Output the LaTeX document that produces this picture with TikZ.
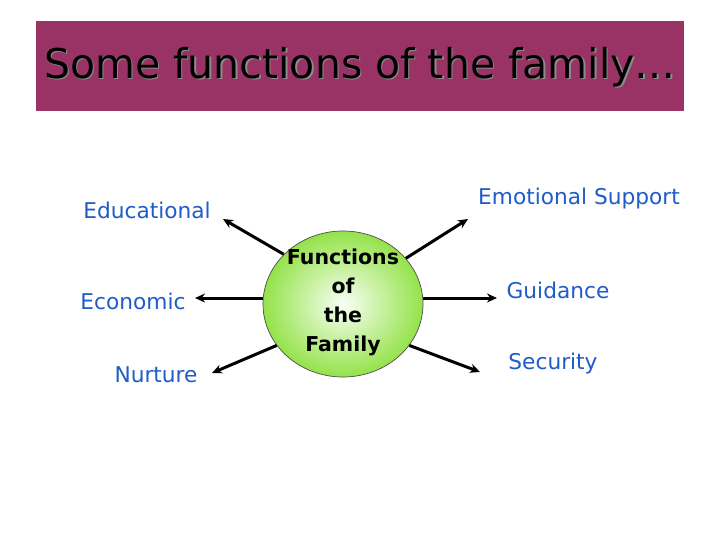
\documentclass[tikz,border=0pt]{standalone}
\usepackage{fontspec}
\setmainfont{DejaVu Sans}
\usetikzlibrary{arrows.meta,shapes.geometric}
\definecolor{titlebg}{HTML}{993366}
\definecolor{labelblue}{HTML}{1F5CC8}
\definecolor{ballout}{HTML}{94E24A}
\definecolor{ballin}{HTML}{F8FFF4}
\tikzset{
  lbl/.style={text=labelblue, font=\fontsize{21.7}{24}\selectfont, inner sep=0pt, anchor=center},
  arr/.style={line width=3pt, -{Stealth[length=10pt,width=9pt]}},
}
\begin{document}
\begin{tikzpicture}[x=1pt,y=-1pt]
\useasboundingbox (0,0) rectangle (720,540);
\fill[white] (0,0) rectangle (720,540);
% title
\node[fill=titlebg, minimum width=648pt, minimum height=90pt, inner sep=0pt] (titlebox) at (360,66) {};
\node[text=black!45, font=\fontsize{41}{44}\selectfont] (titleshadow) at (361.5,68.5) {Some functions of the family…};
\node[text=black, font=\fontsize{41}{44}\selectfont] (title) at (360,67) {Some functions of the family…};
% central ellipse
\node[draw=black!70, line width=0.7pt, ellipse, minimum width=160pt, minimum height=146pt, inner sep=0pt,
      inner color=ballin, outer color=ballout] (c) at (343,304) {};
\node[font=\bfseries\fontsize{20.5}{29}\selectfont, align=center, text=black] (ctext) at (343,302) {Functions\\of\\the\\Family};
% arrow ends
\coordinate (t1) at (223,219);
\coordinate (t2) at (195,298);
\coordinate (t3) at (212,373);
\coordinate (t4) at (468,219);
\coordinate (t5) at (497,298);
\coordinate (t6) at (480,372);
\draw[arr] (c.140) -- (t1);
\draw[arr] (c.180) ++(0,-6) -- (t2);
\draw[arr] (c.212) -- (t3);
\draw[arr] (c.36) -- (t4);
\draw[arr] (c.0) ++(0,-6) -- (t5);
\draw[arr] (c.-32) -- (t6);
% labels
\node[lbl] (edu) at (147,210) {Educational};
\node[lbl] (eco) at (133,301) {Economic};
\node[lbl] (nur) at (156,375) {Nurture};
\node[lbl] (emo) at (579,199) {Emotional Support};
\node[lbl] (gui) at (558,290) {Guidance};
\node[lbl] (sec) at (553,364) {Security};
\end{tikzpicture}
\end{document}
